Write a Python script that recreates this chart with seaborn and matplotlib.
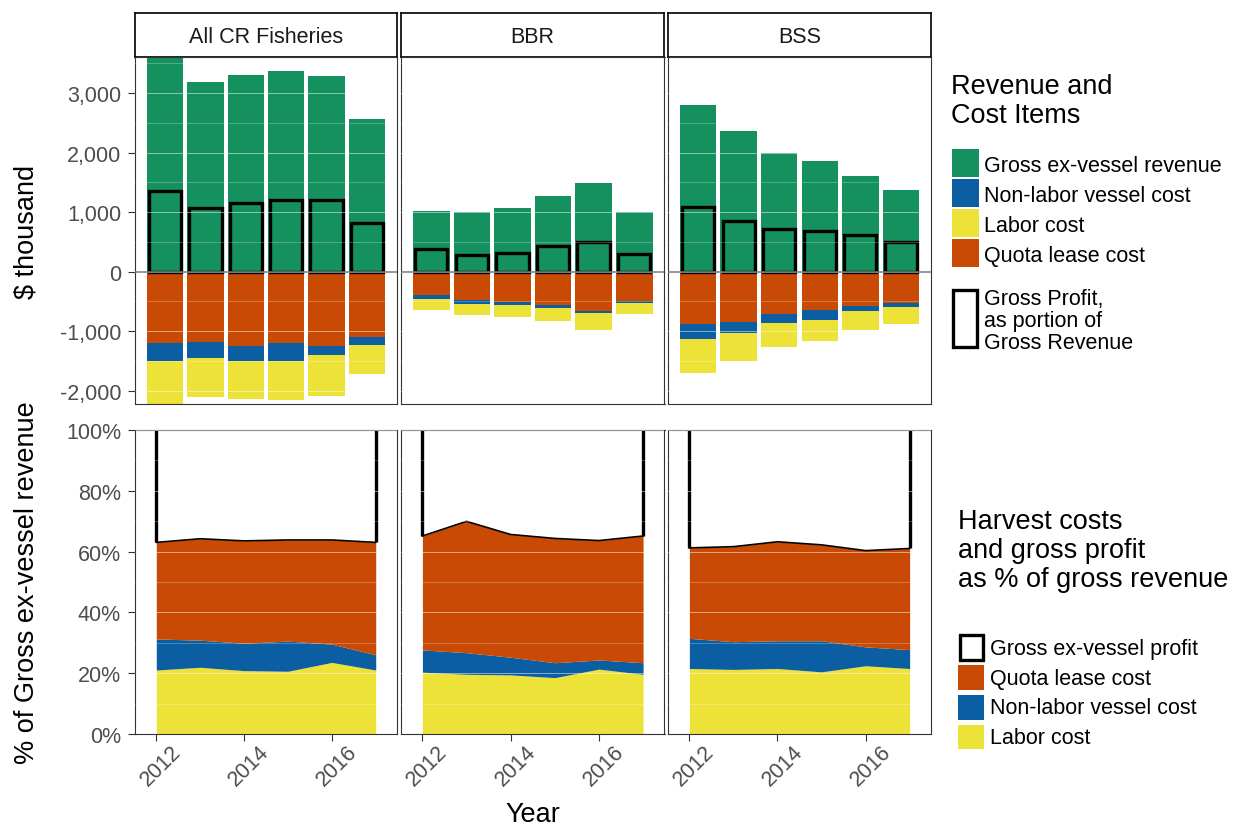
import numpy as np
import pandas as pd
import matplotlib
matplotlib.use("Agg")
import matplotlib.pyplot as plt
import seaborn as sns
from matplotlib.patches import Rectangle
from matplotlib.transforms import ScaledTranslation
from matplotlib.ticker import MultipleLocator, FuncFormatter, FixedLocator

# ---- data ----
years = [2012, 2013, 2014, 2015, 2016, 2017]
fisheries = ["All CR Fisheries", "BBR", "BSS"]

# $ thousand
revenue_all = [3720, 3183, 3306, 3378, 3294, 2561]
profit_all = [1355, 1065, 1150, 1210, 1200, 825]
quota_all = [1193, 1187, 1243, 1204, 1243, 1092]
nonlabor_all = [308, 269, 258, 297, 157, 135]
labor_all = [840, 644, 644, 655, 684, 498]

revenue_bbr = [1020, 998, 1065, 1272, 1485, 998]
profit_bbr = [375, 275, 320, 435, 500, 295]
quota_bbr = [392, 476, 504, 560, 655, 493]
nonlabor_bbr = [67, 67, 61, 56, 34, 39]
labor_bbr = [190, 190, 191, 213, 297, 174]

revenue_bss = [2802, 2359, 1990, 1855, 1608, 1368]
profit_bss = [1090, 845, 715, 680, 615, 495]
quota_bss = [884, 845, 716, 644, 582, 532]
nonlabor_bss = [247, 185, 146, 168, 79, 67]
labor_bss = [577, 476, 399, 359, 319, 280]

# % of gross ex-vessel revenue
labor_pct_all = [21.1, 22.0, 20.9, 20.7, 23.6, 21.1]
nonlabor_pct_all = [10.2, 8.9, 9.0, 9.9, 6.0, 5.0]
quota_pct_all = [31.7, 33.3, 33.6, 33.2, 34.2, 36.9]

labor_pct_bbr = [20.4, 19.7, 19.5, 18.6, 21.4, 19.7]
nonlabor_pct_bbr = [7.3, 7.1, 5.8, 4.9, 3.0, 3.8]
quota_pct_bbr = [37.4, 43.1, 40.3, 40.8, 39.2, 41.6]

labor_pct_bss = [21.6, 21.3, 21.6, 20.5, 22.5, 21.6]
nonlabor_pct_bss = [9.9, 9.1, 9.1, 10.2, 6.2, 6.2]
quota_pct_bss = [29.7, 31.2, 32.5, 31.5, 31.6, 33.2]

GREEN = "#15915F"
BLUE = "#0B5EA1"
YELLOW = "#EDE238"
ORANGE = "#C94A04"
TICK_TXT = "#4D4D4D"
FRAME = "#333333"

usd = pd.concat([
    pd.DataFrame({"fishery": f, "year": years, "revenue": r, "profit": p,
                  "quota": q, "nonlabor": n, "labor": l})
    for f, r, p, q, n, l in [
        (fisheries[0], revenue_all, profit_all, quota_all, nonlabor_all, labor_all),
        (fisheries[1], revenue_bbr, profit_bbr, quota_bbr, nonlabor_bbr, labor_bbr),
        (fisheries[2], revenue_bss, profit_bss, quota_bss, nonlabor_bss, labor_bss),
    ]
], ignore_index=True)

pct = pd.concat([
    pd.DataFrame({"fishery": f, "year": years, "labor": l, "nonlabor": n, "quota": q})
    for f, l, n, q in [
        (fisheries[0], labor_pct_all, nonlabor_pct_all, quota_pct_all),
        (fisheries[1], labor_pct_bbr, nonlabor_pct_bbr, quota_pct_bbr),
        (fisheries[2], labor_pct_bss, nonlabor_pct_bss, quota_pct_bss),
    ]
], ignore_index=True)

# ---- style ----
sns.set_theme(style="white")
plt.rcParams["font.family"] = ["Liberation Sans", "DejaVu Sans"]
plt.rcParams["axes.unicode_minus"] = False

W, H = 1233, 829
fig = plt.figure(figsize=(W / 100, H / 100), dpi=100)


def box(x0, y0, x1, y1):
    return [x0 / W, 1 - y1 / H, (x1 - x0) / W, (y1 - y0) / H]


def frame(ax, color=FRAME, lw=0.8):
    for s in ax.spines.values():
        s.set_visible(True)
        s.set_color(color)
        s.set_linewidth(lw)


cols = [(135, 397), (401, 664.5), (668, 931)]
TICK_FS = 15.5
TITLE_FS = 19.5

for i, (fish, (x0, x1)) in enumerate(zip(fisheries, cols)):
    # strip
    sax = fig.add_axes(box(x0, 14, x1, 58))
    sax.set_xticks([])
    sax.set_yticks([])
    sax.set_facecolor("white")
    frame(sax, "black", 1.2)
    sax.text(0.5, (58 - 43.3) / 44, fish, transform=sax.transAxes,
             fontsize=TICK_FS, color="#1A1A1A", ha="center", va="baseline")

    # top panel: $ thousand bars
    ax = fig.add_axes(box(x0, 58, x1, 405))
    d = usd[usd["fishery"] == fish].copy()
    d["c1"] = -d["quota"]
    d["c2"] = -(d["quota"] + d["nonlabor"])
    d["c3"] = -(d["quota"] + d["nonlabor"] + d["labor"])
    common = dict(data=d, x="year", native_scale=True, width=0.9, linewidth=0,
                  errorbar=None, saturation=1, ax=ax)
    sns.barplot(y="c3", color=YELLOW, **common)
    sns.barplot(y="c2", color=BLUE, **common)
    sns.barplot(y="c1", color=ORANGE, **common)
    sns.barplot(y="revenue", color=GREEN, **common)
    sns.barplot(data=d, x="year", y="profit", native_scale=True, width=0.8,
                errorbar=None, fill=False, color="black", linewidth=2.4, ax=ax)
    ax.axhline(0, color="#7A7A7A", lw=1.1, zorder=3)
    ax.set_xlim(2011.255, 2017.745)
    ax.set_ylim(-2224, 3608)
    ax.yaxis.set_major_locator(MultipleLocator(1000))
    ax.yaxis.set_minor_locator(MultipleLocator(500))
    ax.yaxis.set_major_formatter(FuncFormatter(lambda v, _: f"{v:,.0f}"))
    ax.set_axisbelow(False)
    ax.grid(axis="y", which="major", color="white", alpha=0.5, lw=0.7)
    ax.grid(axis="y", which="minor", color="white", alpha=0.35, lw=0.5)
    ax.grid(axis="x", visible=False)
    ax.set(xlabel="", ylabel="")
    ax.tick_params(axis="x", bottom=False, labelbottom=False)
    ax.tick_params(axis="y", which="minor", length=0)
    if i == 0:
        ax.tick_params(axis="y", which="major", left=True, length=5, width=0.8,
                       color=FRAME, labelsize=TICK_FS, labelcolor=TICK_TXT, pad=5)
    else:
        ax.tick_params(axis="y", left=False, labelleft=False)
    frame(ax)

    # bottom panel: % of gross revenue
    bx = fig.add_axes(box(x0, 430.7, x1, 735.3))
    p = pct[pct["fishery"] == fish]
    lab = p["labor"].to_numpy()
    non = lab + p["nonlabor"].to_numpy()
    quo = non + p["quota"].to_numpy()
    bx.fill_between(years, 0, lab, color=YELLOW, lw=0)
    bx.fill_between(years, lab, non, color=BLUE, lw=0)
    bx.fill_between(years, non, quo, color=ORANGE, lw=0)
    sns.lineplot(x=years, y=quo, color="black", lw=1.2, ax=bx)
    bx.plot([years[0], years[0]], [quo[0], 100], color="black", lw=2.4, solid_capstyle="butt")
    bx.plot([years[-1], years[-1]], [quo[-1], 100], color="black", lw=2.4, solid_capstyle="butt")
    bx.set_xlim(2011.515, 2017.485)
    bx.set_ylim(0, 100)
    bx.xaxis.set_major_locator(FixedLocator([2012, 2014, 2016]))
    bx.yaxis.set_major_locator(MultipleLocator(20))
    bx.yaxis.set_minor_locator(MultipleLocator(10))
    bx.yaxis.set_major_formatter(FuncFormatter(lambda v, _: f"{v:.0f}%"))
    bx.set_axisbelow(False)
    bx.grid(axis="y", which="major", color="white", alpha=0.5, lw=0.7)
    bx.grid(axis="y", which="minor", color="white", alpha=0.35, lw=0.5)
    bx.grid(axis="x", visible=False)
    bx.set(xlabel="", ylabel="")
    bx.tick_params(axis="y", which="minor", length=0)
    bx.tick_params(axis="x", bottom=True, length=5, width=0.8, color=FRAME,
                   labelsize=TICK_FS, labelcolor=TICK_TXT, pad=0, labelrotation=45)
    shift = ScaledTranslation(5 / 100, 0, fig.dpi_scale_trans)
    for t in bx.get_xticklabels():
        t.set_transform(t.get_transform() + shift)
    if i == 0:
        bx.tick_params(axis="y", which="major", left=True, length=5, width=0.8,
                       color=FRAME, labelsize=TICK_FS, labelcolor=TICK_TXT, pad=5)
    else:
        bx.tick_params(axis="y", left=False, labelleft=False)
    frame(bx)

# axis titles
fig.text(27 / W, 1 - 231.5 / H, "$ thousand", rotation=90, ha="center", va="center",
         fontsize=TITLE_FS, color="black")
fig.text(27 / W, 1 - 583 / H, "% of Gross ex-vessel revenue", rotation=90,
         ha="center", va="center", fontsize=TITLE_FS, color="black")
fig.text(533 / W, 1 - 822.5 / H, "Year", ha="center", va="baseline",
         fontsize=TITLE_FS, color="black")


# ---- legends (drawn by hand to match the ggplot guide layout) ----
def key(x0, y0, x1, y1, face, edge=None, lw=0):
    fig.patches.append(Rectangle((x0 / W, 1 - y1 / H), (x1 - x0) / W, (y1 - y0) / H,
                                 transform=fig.transFigure, facecolor=face,
                                 edgecolor=edge if edge else face, lw=lw))


def label(x, y, s, fs=TICK_FS):
    fig.text(x / W, 1 - y / H, s, ha="left", va="baseline", fontsize=fs, color="black")


label(951, 94.5, "Revenue and", TITLE_FS)
label(951, 123.3, "Cost Items", TITLE_FS)
for (y0, col, txt) in [(150, GREEN, "Gross ex-vessel revenue"),
                       (180, BLUE, "Non-labor vessel cost"),
                       (210, YELLOW, "Labor cost"),
                       (240, ORANGE, "Quota lease cost")]:
    key(951.5, y0, 978.5, y0 + 27.5, col)
    label(984, y0 + 21.7, txt)
key(953, 290.5, 977, 348, "white", "black", 2.4)
label(984, 305, "Gross Profit,")
label(984, 327, "as portion of")
label(984, 349.3, "Gross Revenue")

label(957.7, 529, "Harvest costs", TITLE_FS)
label(957.7, 558, "and gross profit", TITLE_FS)
label(957.7, 587, "as % of gross revenue", TITLE_FS)
key(959.5, 635.5, 983, 660.5, "white", "black", 2.4)
label(990, 655, "Gross ex-vessel profit")
for (y0, col, txt, yb) in [(666, ORANGE, "Quota lease cost", 685),
                           (696, BLUE, "Non-labor vessel cost", 714),
                           (725.5, YELLOW, "Labor cost", 744)]:
    key(958.3, y0, 984.3, y0 + 24.5, col)
    label(990, yb, txt)

fig.savefig("out.png", dpi=100)
